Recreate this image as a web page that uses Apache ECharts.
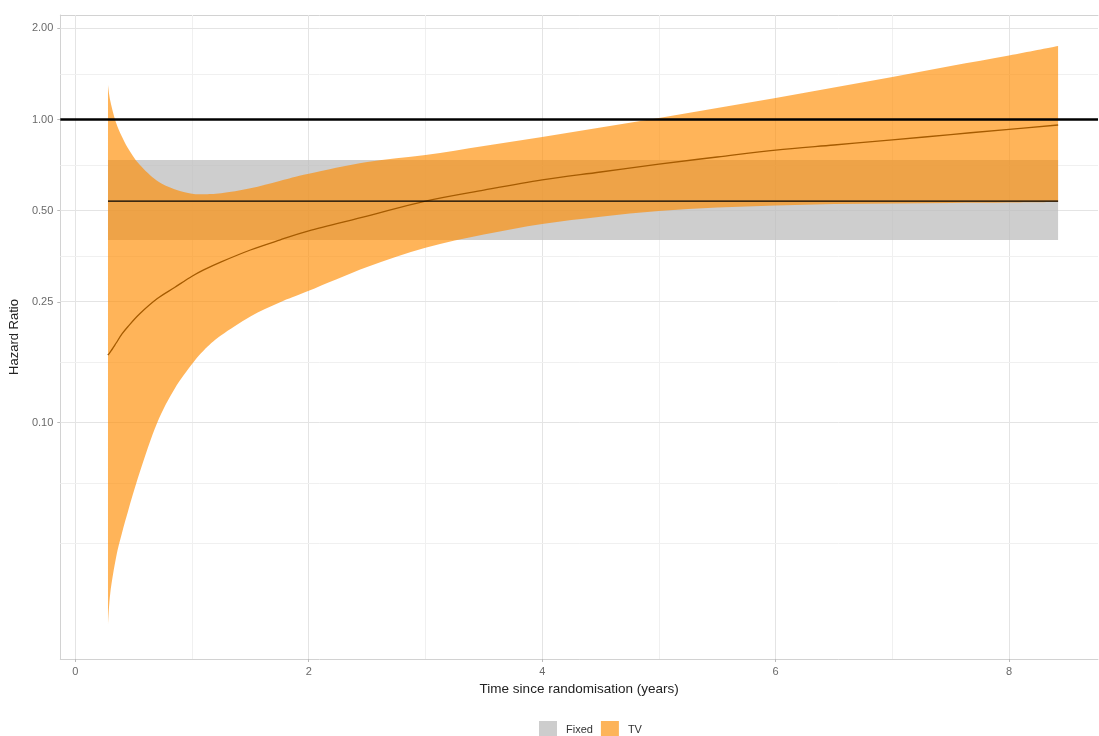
<!DOCTYPE html>
<html>
<head>
<meta charset="utf-8">
<script src="https://cdn.jsdelivr.net/npm/echarts@6/dist/echarts.min.js"></script>
<style>
  html, body { margin: 0; padding: 0; background: #fff; }
  #main { width: 1099px; height: 736px; }
</style>
</head>
<body>
<div id="main"></div>
<script>
// time since randomisation (years)
const times = [0.28, 0.30, 0.35, 0.40, 0.45, 0.55, 0.70, 0.85, 1.00, 1.10, 1.25, 1.50, 1.75, 2.00,
  2.50, 3.00, 3.50, 4.00, 4.50, 5.00, 5.50, 6.00, 6.50, 7.00, 7.50, 8.00, 8.42];
// time-varying hazard ratio and its interval
const tvHR = [0.167, 0.171, 0.183, 0.196, 0.207, 0.228, 0.256, 0.279, 0.304, 0.319, 0.339, 0.371, 0.400, 0.429,
  0.480, 0.538, 0.585, 0.632, 0.671, 0.713, 0.752, 0.793, 0.824, 0.856, 0.892, 0.928, 0.959];
const tvLower = [0.0215, 0.0274, 0.0360, 0.0432, 0.0507, 0.0681, 0.0994, 0.129, 0.156, 0.173, 0.194, 0.224, 0.249, 0.272,
  0.326, 0.377, 0.417, 0.452, 0.478, 0.499, 0.512, 0.520, 0.526, 0.528, 0.530, 0.532, 0.534];
const tvUpper = [1.300, 1.152, 0.973, 0.877, 0.806, 0.710, 0.628, 0.589, 0.569, 0.567, 0.571, 0.593, 0.627, 0.662,
  0.724, 0.763, 0.818, 0.876, 0.941, 1.011, 1.091, 1.177, 1.275, 1.381, 1.502, 1.627, 1.748];

// fixed (constant) hazard ratio
const fixedTimes = [0.28, 8.42];
const fixedHR = [0.538, 0.538];
const fixedLower = [0.400, 0.400];
const fixedUpper = [0.735, 0.735];

const refHR = 1.0;

const xTicks = [0, 2, 4, 6, 8];
const xMinor = [1, 3, 5, 7];
const yTicks = [0.10, 0.25, 0.50, 1.00, 2.00];
const yMinor = [0.04, 0.0632, 0.158, 0.354, 0.707, 1.414];

const font = 'Liberation Sans, Arial, sans-serif';
const lg = Math.log10;
const borderGrey = '#D2D2D2';

function toLog(xs, ys) {
  return xs.map((x, i) => [x, lg(ys[i])]);
}

// cubic (catmull-rom) segments through pixel points
function curveThrough(p) {
  let d = '';
  for (let i = 0; i < p.length - 1; i++) {
    const p0 = p[Math.max(i - 1, 0)], p1 = p[i], p2 = p[i + 1], p3 = p[Math.min(i + 2, p.length - 1)];
    const c1 = [p1[0] + (p2[0] - p0[0]) / 6, p1[1] + (p2[1] - p0[1]) / 6];
    const c2 = [p2[0] - (p3[0] - p1[0]) / 6, p2[1] - (p3[1] - p1[1]) / 6];
    d += ' C' + c1.join(' ') + ' ' + c2.join(' ') + ' ' + p2.join(' ');
  }
  return d;
}

// ribbon between lo and hi, drawn as one closed path through the axes
function ribbon(name, xs, lo, hi, fill, opacity) {
  const rows = xs.map((x, i) => [x, lg(lo[i]), lg(hi[i])]);
  return {
    name: name, type: 'custom', silent: true, clip: true,
    encode: { x: 0, y: [1, 2] },
    data: rows,
    renderItem: function (params, api) {
      if (params.dataIndex !== 0) return null;
      const top = rows.map(r => api.coord([r[0], r[2]]));
      const bottom = rows.map(r => api.coord([r[0], r[1]])).reverse();
      const d = 'M' + top[0].join(' ') + curveThrough(top) +
        ' L' + bottom[0].join(' ') + curveThrough(bottom) + ' Z';
      return {
        type: 'path',
        shape: { pathData: d },
        style: { fill: fill, opacity: opacity }
      };
    }
  };
}

// estimate curve drawn with the same spline as the ribbons
function curve(name, xs, ys) {
  const rows = toLog(xs, ys);
  return {
    name: name, type: 'custom', silent: true, clip: true,
    encode: { x: 0, y: 1 },
    data: rows,
    renderItem: function (params, api) {
      if (params.dataIndex !== 0) return null;
      const pts = rows.map(r => api.coord(r));
      return {
        type: 'path',
        shape: { pathData: 'M' + pts[0].join(' ') + curveThrough(pts) },
        style: { fill: null, stroke: '#000', lineWidth: 1.3 }
      };
    }
  };
}

const solid = (c) => ({ color: c, width: 1, type: 'solid' });
const gridLines = [].concat(
  xTicks.map(v => ({ xAxis: v, lineStyle: solid('#E4E4E4') })),
  xMinor.map(v => ({ xAxis: v, lineStyle: solid('#F0F0F0') })),
  yTicks.map(v => ({ yAxis: lg(v), lineStyle: solid('#E4E4E4') })),
  yMinor.map(v => ({ yAxis: lg(v), lineStyle: solid('#F0F0F0') }))
);

const chart = echarts.init(document.getElementById('main'));

const option = {
  animation: false,
  backgroundColor: '#fff',
  textStyle: { fontFamily: font },
  grid: { left: 60, top: 15, right: 1, bottom: 77 },
  legend: {
    left: 534, top: 716,
    icon: 'rect', itemWidth: 18, itemHeight: 17, itemGap: 8,
    textStyle: { fontSize: 11, color: '#333', fontFamily: font, padding: [0, 0, 0, 4] },
    data: [
      { name: 'Fixed', itemStyle: { color: '#CDCDCD', opacity: 1 } },
      { name: 'TV', itemStyle: { color: '#FDB45A', opacity: 1 } }
    ]
  },
  xAxis: [
    {
      type: 'value', min: -0.1285, max: 8.762,
      name: 'Time since randomisation (years)', nameLocation: 'middle', nameGap: 22,
      nameTextStyle: { fontSize: 13.5, color: '#222', fontFamily: font },
      axisLine: { show: true, onZero: false, lineStyle: { color: borderGrey, width: 1 } },
      splitLine: { show: false },
      axisTick: { show: true, length: 3, lineStyle: { color: '#BBBBBB' }, customValues: xTicks },
      axisLabel: { customValues: xTicks, fontSize: 11, color: '#6A6A6A', margin: 7, fontFamily: font }
    },
    {
      type: 'value', position: 'top', min: -0.1285, max: 8.762,
      axisLine: { show: true, onZero: false, lineStyle: { color: borderGrey, width: 1 } },
      axisTick: { show: false }, axisLabel: { show: false }, splitLine: { show: false }
    }
  ],
  yAxis: {
    type: 'value', min: -1.7805, max: 0.3449,
    name: 'Hazard Ratio', nameLocation: 'middle', nameGap: 33, nameRotate: 90,
    nameTextStyle: { fontSize: 13, color: '#222', fontFamily: font },
    axisLine: { show: true, onZero: false, lineStyle: { color: borderGrey, width: 1 } },
    splitLine: { show: false },
    axisTick: { show: true, length: 3, lineStyle: { color: '#BBBBBB' }, customValues: yTicks.map(lg) },
    axisLabel: {
      customValues: yTicks.map(lg), fontSize: 11, color: '#6A6A6A', margin: 7, fontFamily: font,
      formatter: v => Math.pow(10, v).toFixed(2)
    }
  },
  series: [
    {
      name: 'grid', type: 'line', data: toLog(fixedTimes, fixedHR), symbol: 'none', silent: true,
      lineStyle: { width: 0, opacity: 0 },
      markLine: {
        silent: true, symbol: ['none', 'none'], z: 1, animation: false,
        label: { show: false }, data: gridLines
      }
    },
    ribbon('Fixed', fixedTimes, fixedLower, fixedUpper, '#BEBEBE', 0.75),
    {
      name: 'fixedLine', type: 'line', data: toLog(fixedTimes, fixedHR), symbol: 'none', silent: true,
      lineStyle: { color: '#000', width: 1.3 },
      markLine: {
        silent: true, symbol: ['none', 'none'], z: 10, animation: false,
        label: { show: false },
        data: [{ yAxis: lg(refHR), lineStyle: { color: '#000', width: 2.6, type: 'solid' } }]
      }
    },
    curve('tvLine', times, tvHR),
    ribbon('TV', times, tvLower, tvUpper, '#FF8C00', 0.65)
  ]
};

chart.setOption(option);
</script>
</body>
</html>
